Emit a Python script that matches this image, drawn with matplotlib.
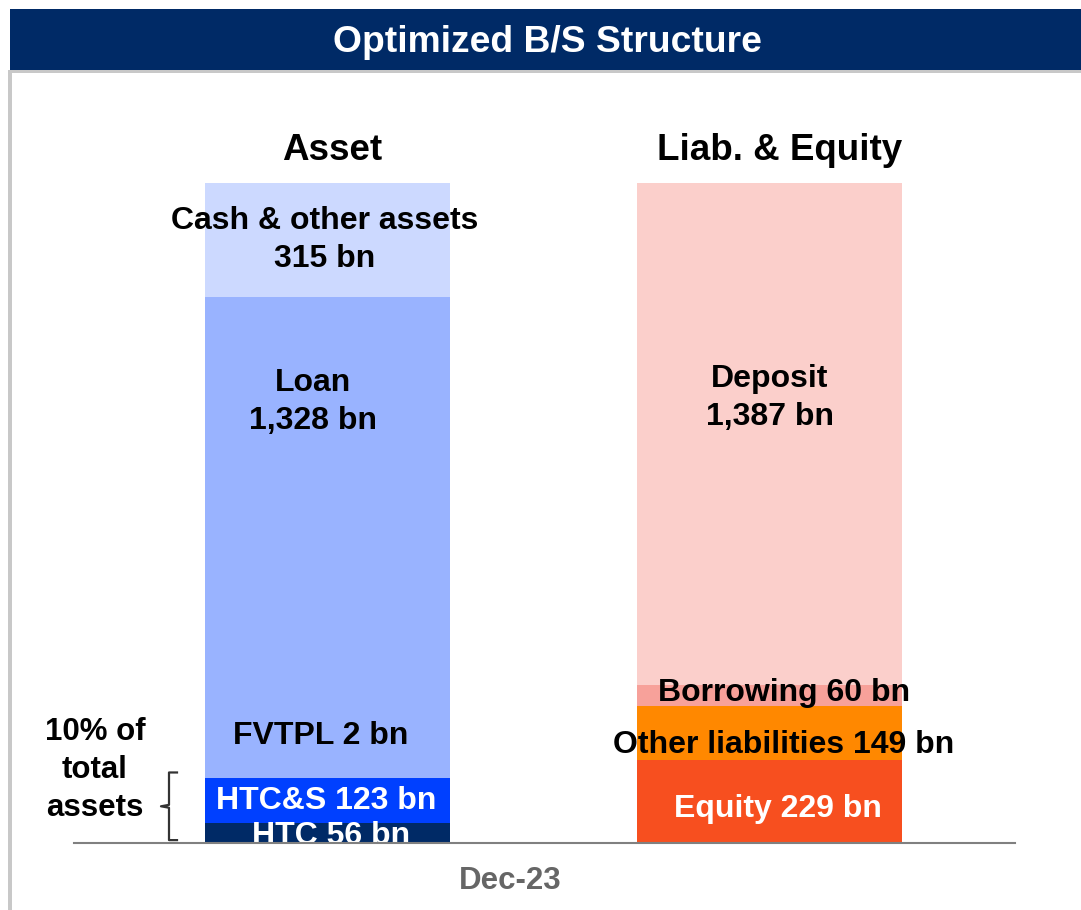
#!/usr/bin/env python3

import matplotlib
matplotlib.use("Agg")
import matplotlib.pyplot as plt
from matplotlib.patches import Rectangle
import matplotlib.transforms as mtransforms

plt.rcParams['font.family'] = ['Liberation Sans', 'DejaVu Sans']
plt.rcParams['font.weight'] = 'bold'

# data (bn), bottom to top
asset_names = ['HTC', 'HTC&S', 'FVTPL', 'Loan', 'Cash & other assets']
asset_values = [56, 123, 2, 1328, 315]
asset_labels = ['HTC 56 bn', 'HTC&S 123 bn', 'FVTPL 2 bn', 'Loan\n1,328 bn',
                'Cash & other assets\n315 bn']

liab_names = ['Equity', 'Other liabilities', 'Borrowing', 'Deposit']
liab_values = [229, 149, 60, 1387]
liab_labels = ['Equity 229 bn', 'Other liabilities 149 bn', 'Borrowing 60 bn',
               'Deposit\n1,387 bn']

columns = ['Asset', 'Liab. & Equity']
period = 'Dec-23'
title = 'Optimized B/S Structure'
side_note = '10% of\ntotal\nassets'

asset_colors = ['#002A66', '#0040FF', '#99B3FF', '#99B3FF', '#CCD9FF']
asset_text = ['white', 'white', 'black', 'black', 'black']
liab_colors = ['#F74F1F', '#FF8800', '#F7A19A', '#FBCFCB']
liab_text = ['white', 'black', 'black', 'black']

# label placement: (anchor, dx, dy in pixels)  anchor = 'mid' or 'top'
asset_anchor = [('mid', 4, -3), ('mid', -1, 0), ('top', -7, 42),
                ('top', -14, -105), ('mid', -3, 0)]
liab_anchor = [('mid', 8, -7), ('mid', 14, -12), ('top', 15, -8), ('top', 0, -215)]

W, H = 1081, 910
fig = plt.figure(figsize=(W / 100, H / 100), dpi=100)

# banner and frame
fig.patches.append(Rectangle((10 / W, 1 - 70 / H), 1, 61 / H, transform=fig.transFigure,
                             facecolor='#002A66', edgecolor='none'))
fig.patches.append(Rectangle((8 / W, 1 - 73 / H), 1, 3 / H, transform=fig.transFigure,
                             facecolor='#C8C8C8', edgecolor='none'))
fig.patches.append(Rectangle((8 / W, 0), 4 / W, 1 - 73 / H, transform=fig.transFigure,
                             facecolor='#C8C8C8', edgecolor='none'))
fig.text(547 / W, 1 - 43 / H, title, color='white', fontsize=26.8,
         ha='center', va='center')

ax_left, ax_right, base, top = 74, 1015, 843, 183
ax = fig.add_axes([ax_left / W, 1 - base / H, (ax_right - ax_left) / W, (base - top) / H])
total = max(sum(asset_values), sum(liab_values))
ax.set_ylim(0, total)
span = 442.0
ax.set_xlim(-253.5 / span, (ax_right - ax_left - 253.5) / span)
widths = [245 / span, 265 / span]
for s in ['top', 'left', 'right']:
    ax.spines[s].set_visible(False)
ax.spines['bottom'].set_color('#808080')
ax.spines['bottom'].set_linewidth(1.5)
ax.spines['bottom'].set_zorder(5)
ax.set_xticks([])
ax.set_yticks([])


def draw_stack(x, width, values, colors, labels, tcolors, anchors):
    bottom = 0
    for v, c, lab, tc, (anc, dx, dy) in zip(values, colors, labels, tcolors, anchors):
        ax.bar(x, v, width=width, bottom=bottom, color=c, edgecolor='none', zorder=2)
        y = bottom + v / 2 if anc == 'mid' else bottom + v
        t = ax.annotate(lab, (x, y), xytext=(dx, dy), textcoords='offset pixels',
                        ha='center', va='center', color=tc, fontsize=23,
                        linespacing=1.36, zorder=4, annotation_clip=False)
        t.set_clip_box(ax.bbox)
        t.set_clip_on(True)
        bottom += v
    return bottom


a_top = draw_stack(0, widths[0], asset_values, asset_colors, asset_labels,
                   asset_text, asset_anchor)
l_top = draw_stack(1, widths[1], liab_values, liab_colors, liab_labels,
                   liab_text, liab_anchor)

ax.annotate(columns[0], (0, a_top), xytext=(5, 33), textcoords='offset pixels',
            ha='center', va='center', fontsize=26.5, annotation_clip=False)
ax.annotate(columns[1], (1, l_top), xytext=(10, 33), textcoords='offset pixels',
            ha='center', va='center', fontsize=26.5, annotation_clip=False)

fig.text(510 / W, 1 - 881 / H, period, color='#666666', fontsize=22.5,
         ha='center', va='center')

# bracket for HTC + HTC&S
trans = mtransforms.blended_transform_factory(ax.transAxes, ax.transData)
b_lo = 8
b_hi = asset_values[0] + asset_values[1] + 16
b_mid = (b_lo + b_hi) / 2
px = lambda p: (p - ax_left) / (ax_right - ax_left)
d = 4
ax.plot([px(177), px(169), px(169), px(161), px(169), px(169), px(177)],
        [b_hi, b_hi, b_mid + d, b_mid, b_mid - d, b_lo, b_lo],
        color='#333333', lw=1.6, transform=trans, clip_on=False, zorder=3,
        solid_joinstyle='round')

fig.text(95 / W, 1 - 770 / H, side_note, fontsize=22.5, ha='center', va='center',
         linespacing=1.36)

fig.savefig('out.png', dpi=100)
